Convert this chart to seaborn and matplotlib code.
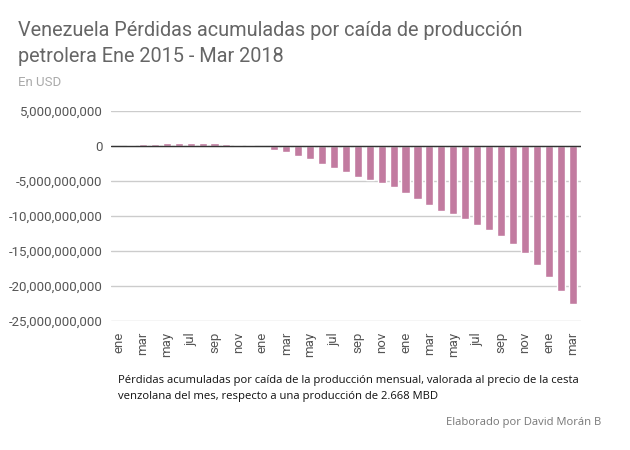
import matplotlib
matplotlib.use("Agg")
import matplotlib.pyplot as plt
import seaborn as sns
import pandas as pd

months = ["ene", "feb", "mar", "abr", "may", "jun", "jul", "ago", "sep", "oct", "nov", "dic"]
years = [2015, 2016, 2017, 2018]
month_keys = [f"{y}-{m:02d}" for y in years for m in range(1, 13)][:39]
month_labels = [months[int(k[5:]) - 1] for k in month_keys]

# Pérdidas acumuladas (USD)
losses = [
    0.00e9, 0.14e9, 0.29e9, 0.29e9, 0.43e9, 0.43e9, 0.43e9, 0.43e9, 0.43e9, 0.33e9, 0.19e9, 0.14e9,
    -0.05e9, -0.52e9, -0.86e9, -1.38e9, -1.81e9, -2.52e9, -3.10e9, -3.67e9, -4.38e9, -4.86e9, -5.33e9, -5.81e9,
    -6.76e9, -7.62e9, -8.48e9, -9.24e9, -9.76e9, -10.48e9, -11.24e9, -12.00e9, -12.81e9, -13.95e9, -15.24e9, -17.05e9,
    -18.76e9, -20.67e9, -22.57e9,
]
yticks = [5e9, 0, -5e9, -10e9, -15e9, -20e9, -25e9]
ytick_labels = ["5,000,000,000", "0", "-5,000,000,000", "-10,000,000,000",
                "-15,000,000,000", "-20,000,000,000", "-25,000,000,000"]

df = pd.DataFrame({"mes": month_keys, "perdida": losses})

sns.set_theme(style="white")
plt.rcParams["font.family"] = ["Roboto", "DejaVu Sans"]

fig = plt.figure(figsize=(6.3, 4.5), dpi=100)
ax = fig.add_axes([111 / 630, 1 - 321 / 450, (581 - 111) / 630, (321 - 111) / 450])

sns.barplot(data=df, x="mes", y="perdida", order=month_keys, color="#c27ba0",
            width=0.68, ax=ax, zorder=3, saturation=1)

ax.set_ylim(-25e9, 5e9)
ax.set_xlim(-0.67, 38.7)
ax.set_yticks(yticks)
ax.set_yticklabels(ytick_labels, color="#555555", fontsize=9.5)
ax.grid(axis="y", color="#cccccc", linewidth=1, zorder=0)
ax.axhline(0, color="#333333", linewidth=1, zorder=4)
ax.set_xticks(range(0, 39, 2))
ax.set_xticklabels([month_labels[i] for i in range(0, 39, 2)], rotation=90,
                   color="#555555", fontsize=9.5)
ax.tick_params(axis="both", length=0, pad=6)
ax.tick_params(axis="x", pad=8)
ax.set_xlabel("")
ax.set_ylabel("")
for s in ax.spines.values():
    s.set_visible(False)

fig.text(18 / 630, 1 - 30 / 450, "Venezuela Pérdidas acumuladas por caída de producción",
         fontsize=14.3, color="#666666", va="center", ha="left")
fig.text(18 / 630, 1 - 56 / 450, "petrolera Ene 2015 - Mar 2018",
         fontsize=14.3, color="#666666", va="center", ha="left")
fig.text(18 / 630, 1 - 82 / 450, "En USD", fontsize=9.5, color="#aaaaaa", va="center", ha="left")

fig.text(118 / 630, 1 - 381 / 450,
         "Pérdidas acumuladas por caída de la producción mensual, valorada al precio de la cesta",
         fontsize=8.15, color="#111111", va="center", ha="left", family=["Open Sans", "DejaVu Sans"])
fig.text(118 / 630, 1 - 396 / 450,
         "venzolana del mes, respecto a una producción de 2.668 MBD",
         fontsize=8.15, color="#111111", va="center", ha="left", family=["Open Sans", "DejaVu Sans"])
fig.text(601 / 630, 1 - 423 / 450, "Elaborado por David Morán B",
         fontsize=8.15, color="#777777", va="center", ha="right", family=["Open Sans", "DejaVu Sans"])

fig.savefig("out.png", dpi=100, facecolor="white")
